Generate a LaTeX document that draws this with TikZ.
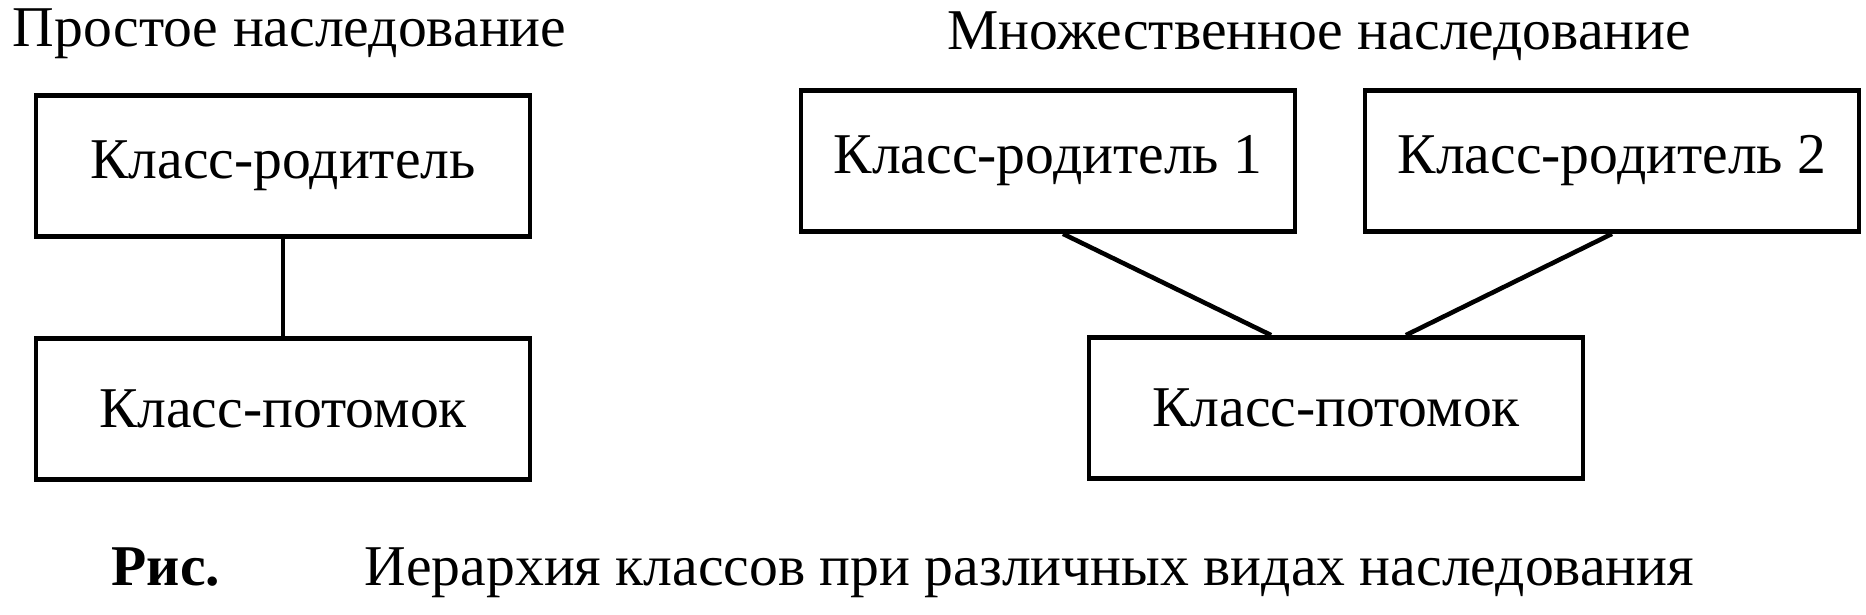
\documentclass[tikz,border=0pt]{standalone}
\usepackage{fontspec}
\setmainfont{Liberation Serif}
\usetikzlibrary{calc}

\begin{document}
\begin{tikzpicture}[x=0.01cm, y=-0.01cm, font=\fontsize{16.4}{19}\selectfont,
                    cls/.style={draw, line width=1.3pt, minimum width=4.94cm, minimum height=1.41cm, inner sep=0pt},
                    lbl/.style={anchor=base west, inner sep=0pt},
                    link/.style={line width=1.3pt}]
  \useasboundingbox (0,0) rectangle (1866,615);
  % simple inheritance
  \node[lbl] (t1) at (12,47) {Простое наследование};
  \node[cls] (pa) at (283,166) {Класс-родитель};
  \node[cls] (ch) at (283,409) {Класс-потомок};
  \draw[link] (pa) -- (ch);
  % multiple inheritance
  \node[lbl] (t2) at (947,49) {Множественное наследование};
  \node[cls] (pa1) at (1048,161) {Класс-родитель 1};
  \node[cls] (pa2) at (1612,161) {Класс-родитель 2};
  \node[cls] (chm) at (1336,408) {Класс-потомок};
  \coordinate (a1) at ($(pa1.south west)!0.53!(pa1.south east)$);
  \coordinate (b1) at ($(chm.north west)!0.37!(chm.north east)$);
  \coordinate (b2) at ($(chm.north west)!0.64!(chm.north east)$);
  \draw[link] (a1) -- (b1);
  \draw[link] (pa2.south) -- (b2);
  % caption
  \node[lbl, font=\fontsize{16.4}{19}\selectfont\bfseries] (fig) at (111,585) {Рис.};
  \node[lbl] (cap) at (364,585) {Иерархия классов при различных видах наследования};
\end{tikzpicture}
\end{document}
